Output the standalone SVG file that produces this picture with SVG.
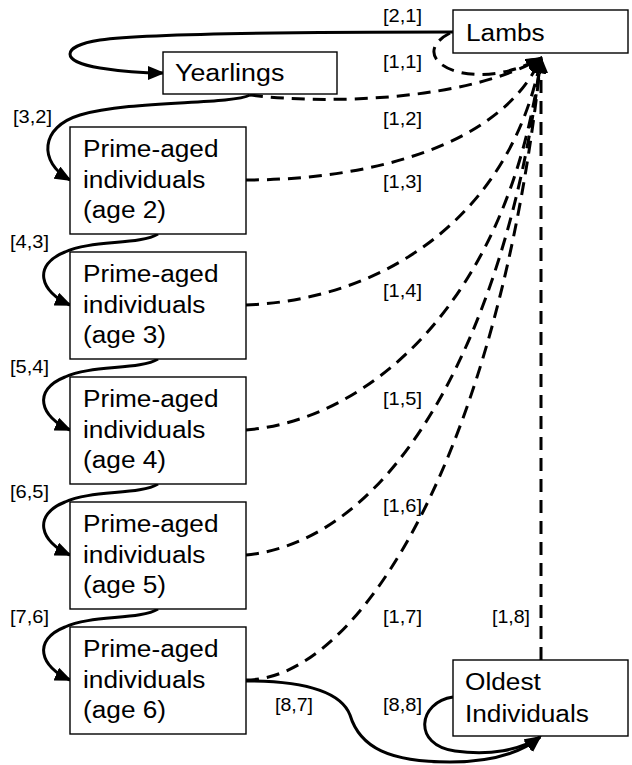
<svg xmlns="http://www.w3.org/2000/svg" width="632" height="765" viewBox="0 0 632 765">
<style>
.box{fill:#fff;stroke:#000;stroke-width:1.4}
.t{font-family:"Liberation Sans",Arial,sans-serif;font-size:23px;fill:#000}
.lbl{font-family:"Liberation Sans",Arial,sans-serif;font-size:18px;fill:#000}
.s{fill:none;stroke:#000;stroke-width:3;marker-end:url(#ah)}
.d{fill:none;stroke:#000;stroke-width:3;stroke-dasharray:13 8;marker-end:url(#ah)}
</style>
<defs>
<marker id="ah" markerUnits="userSpaceOnUse" markerWidth="18" markerHeight="14" refX="15" refY="7" orient="auto">
<path d="M0,0 L17,7 L0,14 z" fill="#000" stroke="none"/>
</marker>
</defs>
<rect width="632" height="765" fill="#fff"/>
<g id="connectors">
<path class="s" d="M453,32 C300,32 150,33 100,40 C60,46 60,62 100,68 C125,72 145,73 163,73"/>
<path class="d" d="M450,33 C402,58 470,97 541,58"/>
<path class="d" d="M250,95 C330,105 470,100 541,58"/>
<path class="s" d="M250,95 C230,105 130,100 80,115 C40,127 38,162 70,180"/>
<path class="s" d="M158,234 C140,245 90,240 65,252 C32,265 40,292 70,305"/>
<path class="s" d="M158,359 C140,370 90,365 65,377 C32,390 40,417 70,430"/>
<path class="s" d="M158,484 C140,495 90,490 65,502 C32,515 40,542 70,555"/>
<path class="s" d="M158,609 C140,620 90,615 65,627 C32,640 40,667 70,680"/>
<path class="d" d="M246,180 C360,180 500,150 541,58"/>
<path class="d" d="M246,305 C380,300 510,220 541,58"/>
<path class="d" d="M246,430 C370,420 510,300 541,58"/>
<path class="d" d="M246,555 C400,540 510,320 541,58"/>
<path class="d" d="M246,680 C360,680 500,450 541,58"/>
<path class="d" d="M541,660 L541,58"/>
<path class="s" d="M246,681 C300,681 340,690 350,715 C360,748 390,762 450,762 C495,762 522,752 540,737"/>
<path class="s" d="M453,697 C418,702 412,745 455,751 C490,756 520,750 540,737"/>
</g>
<g id="labels">
<text class="lbl" x="383" y="22" textLength="39" lengthAdjust="spacingAndGlyphs">[2,1]</text>
<text class="lbl" x="383" y="68" textLength="39" lengthAdjust="spacingAndGlyphs">[1,1]</text>
<text class="lbl" x="383" y="125" textLength="39" lengthAdjust="spacingAndGlyphs">[1,2]</text>
<text class="lbl" x="383" y="188" textLength="39" lengthAdjust="spacingAndGlyphs">[1,3]</text>
<text class="lbl" x="383" y="297" textLength="39" lengthAdjust="spacingAndGlyphs">[1,4]</text>
<text class="lbl" x="383" y="405" textLength="39" lengthAdjust="spacingAndGlyphs">[1,5]</text>
<text class="lbl" x="383" y="512" textLength="39" lengthAdjust="spacingAndGlyphs">[1,6]</text>
<text class="lbl" x="383" y="623" textLength="39" lengthAdjust="spacingAndGlyphs">[1,7]</text>
<text class="lbl" x="492" y="623" textLength="38" lengthAdjust="spacingAndGlyphs">[1,8]</text>
<text class="lbl" x="13" y="123" textLength="39" lengthAdjust="spacingAndGlyphs">[3,2]</text>
<text class="lbl" x="10" y="248" textLength="39" lengthAdjust="spacingAndGlyphs">[4,3]</text>
<text class="lbl" x="10" y="373" textLength="39" lengthAdjust="spacingAndGlyphs">[5,4]</text>
<text class="lbl" x="10" y="498" textLength="39" lengthAdjust="spacingAndGlyphs">[6,5]</text>
<text class="lbl" x="10" y="623" textLength="39" lengthAdjust="spacingAndGlyphs">[7,6]</text>
<text class="lbl" x="275" y="711" textLength="38" lengthAdjust="spacingAndGlyphs">[8,7]</text>
<text class="lbl" x="383" y="711" textLength="39" lengthAdjust="spacingAndGlyphs">[8,8]</text>
</g>
<g id="lambs">
<rect class="box" x="453" y="10" width="175" height="43"/>
<text class="t" x="466" y="41" textLength="78.7" lengthAdjust="spacingAndGlyphs">Lambs</text>
</g>
<g id="yearlings">
<rect class="box" x="163" y="52" width="174" height="42"/>
<text class="t" x="175" y="81" textLength="109.3" lengthAdjust="spacingAndGlyphs">Yearlings</text>
</g>
<g id="prime2">
<rect class="box" x="70" y="127" width="176" height="107"/>
<text class="t" x="83" y="157" textLength="135.5" lengthAdjust="spacingAndGlyphs">Prime-aged</text>
<text class="t" x="83" y="188" textLength="122.4" lengthAdjust="spacingAndGlyphs">individuals</text>
<text class="t" x="83" y="218" textLength="83.1" lengthAdjust="spacingAndGlyphs">(age 2)</text>
</g>
<g id="prime3">
<rect class="box" x="70" y="252" width="176" height="107"/>
<text class="t" x="83" y="282" textLength="135.5" lengthAdjust="spacingAndGlyphs">Prime-aged</text>
<text class="t" x="83" y="313" textLength="122.4" lengthAdjust="spacingAndGlyphs">individuals</text>
<text class="t" x="83" y="343" textLength="83.1" lengthAdjust="spacingAndGlyphs">(age 3)</text>
</g>
<g id="prime4">
<rect class="box" x="70" y="377" width="176" height="107"/>
<text class="t" x="83" y="407" textLength="135.5" lengthAdjust="spacingAndGlyphs">Prime-aged</text>
<text class="t" x="83" y="438" textLength="122.4" lengthAdjust="spacingAndGlyphs">individuals</text>
<text class="t" x="83" y="468" textLength="83.1" lengthAdjust="spacingAndGlyphs">(age 4)</text>
</g>
<g id="prime5">
<rect class="box" x="70" y="502" width="176" height="107"/>
<text class="t" x="83" y="532" textLength="135.5" lengthAdjust="spacingAndGlyphs">Prime-aged</text>
<text class="t" x="83" y="563" textLength="122.4" lengthAdjust="spacingAndGlyphs">individuals</text>
<text class="t" x="83" y="593" textLength="83.1" lengthAdjust="spacingAndGlyphs">(age 5)</text>
</g>
<g id="prime6">
<rect class="box" x="70" y="627" width="176" height="107"/>
<text class="t" x="83" y="657" textLength="135.5" lengthAdjust="spacingAndGlyphs">Prime-aged</text>
<text class="t" x="83" y="688" textLength="122.4" lengthAdjust="spacingAndGlyphs">individuals</text>
<text class="t" x="83" y="718" textLength="83.1" lengthAdjust="spacingAndGlyphs">(age 6)</text>
</g>
<g id="oldest">
<rect class="box" x="453" y="660" width="175" height="76"/>
<text class="t" x="465" y="690" textLength="75.8" lengthAdjust="spacingAndGlyphs">Oldest</text>
<text class="t" x="465" y="722" textLength="123.9" lengthAdjust="spacingAndGlyphs">Individuals</text>
</g>
</svg>
